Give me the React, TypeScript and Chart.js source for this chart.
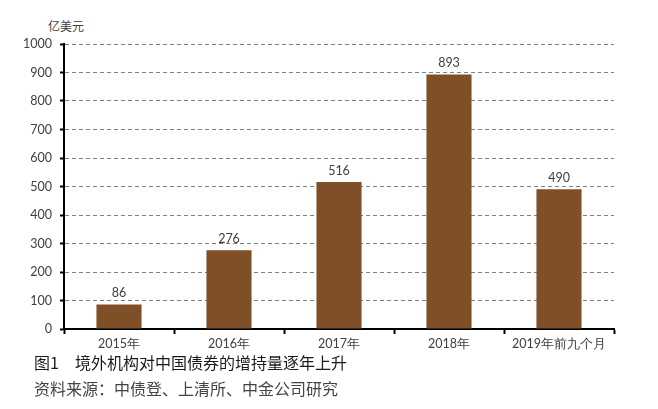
import React, { useEffect, useRef } from "react";
import { Chart, registerables } from "chart.js";

Chart.register(...registerables);

const categories = ["2015年", "2016年", "2017年", "2018年", "2019年前九个月"];
const values = [86, 276, 516, 893, 490];
const yTicks = [0, 100, 200, 300, 400, 500, 600, 700, 800, 900, 1000];
const unitLabel = "亿美元";
const captionTitle = "图1　境外机构对中国债券的增持量逐年上升";
const captionSource = "资料来源：中债登、上清所、中金公司研究";

const TICK_FONT = "'Lato', 'DejaVu Sans', sans-serif";

const valueLabelPlugin = {
  id: "valueLabels",
  afterDatasetsDraw(chart: any) {
    const ctx = chart.ctx;
    const meta = chart.getDatasetMeta(0);
    ctx.save();
    ctx.font = `12.5px ${TICK_FONT}`;
    ctx.fillStyle = "#404040";
    ctx.textAlign = "center";
    ctx.textBaseline = "bottom";
    meta.data.forEach((bar: any, i: number) => {
      ctx.fillText(String(values[i]), bar.x, bar.y - 5);
    });
    ctx.restore();
  },
};

export default function App() {
  const ref = useRef<HTMLCanvasElement | null>(null);
  useEffect(() => {
    if (!ref.current) return;
    const chart = new Chart(ref.current, {
      type: "bar",
      data: {
        labels: categories,
        datasets: [
          {
            data: values,
            backgroundColor: "#7f4f27",
            categoryPercentage: 1,
            barPercentage: 0.41,
          },
        ],
      },
      options: {
        animation: false,
        responsive: false,
        maintainAspectRatio: false,
        layout: { padding: { top: 44, right: 44, left: 0, bottom: 0 } },
        plugins: { legend: { display: false }, tooltip: { enabled: false } },
        scales: {
          x: {
            grid: {
              drawOnChartArea: false,
              drawTicks: true,
              tickLength: 5,
              tickColor: "#000",
              tickWidth: 2,
            },
            border: { color: "#000", width: 2 },
            ticks: {
              color: "#404040",
              font: { family: TICK_FONT, size: 12.5 },
              padding: 2,
              maxRotation: 0,
            },
            afterFit: (s: any) => {
              s.height = 26;
            },
          },
          y: {
            min: 0,
            max: 1000,
            afterBuildTicks: (s: any) => {
              s.ticks = yTicks.map((v) => ({ value: v }));
            },
            grid: {
              color: (c: any) => (c.tick && c.tick.value === 0 ? "rgba(0,0,0,0)" : "#808080"),
              lineWidth: 1,
              tickColor: "#000",
              tickWidth: 2,
              tickLength: 4,
              tickBorderDash: [],
            },
            border: { color: "#000", width: 2, dash: [4, 3] },
            ticks: {
              color: "#404040",
              font: { family: TICK_FONT, size: 12.5 },
              padding: 8,
              callback: (v: any) => String(v),
            },
            afterFit: (s: any) => {
              s.width = 64;
            },
          },
        },
      },
      plugins: [valueLabelPlugin],
    });
    return () => chart.destroy();
  }, []);

  return (
    <div style={{ position: "fixed", left: 0, top: 0, width: 658, height: 409, background: "#fff" }}>
      <div
        style={{
          position: "absolute",
          left: 48,
          top: 18,
          fontSize: 12,
          color: "#404040",
          fontFamily: "'Noto Sans CJK SC', sans-serif",
          lineHeight: "16px",
        }}
      >
        {unitLabel}
      </div>
      <canvas ref={ref} width={658} height={355} style={{ position: "absolute", left: 0, top: 0 }} />
      <div
        style={{
          position: "absolute",
          left: 34,
          top: 352,
          fontSize: 16,
          color: "#1a1a1a",
          fontFamily: "'Noto Sans CJK SC', serif",
          lineHeight: "20px",
          whiteSpace: "pre",
        }}
      >
        {captionTitle}
      </div>
      <div
        style={{
          position: "absolute",
          left: 34,
          top: 378,
          fontSize: 16,
          color: "#444",
          fontFamily: "'Noto Sans CJK SC', serif",
          lineHeight: "20px",
          whiteSpace: "pre",
        }}
      >
        {captionSource}
      </div>
    </div>
  );
}
